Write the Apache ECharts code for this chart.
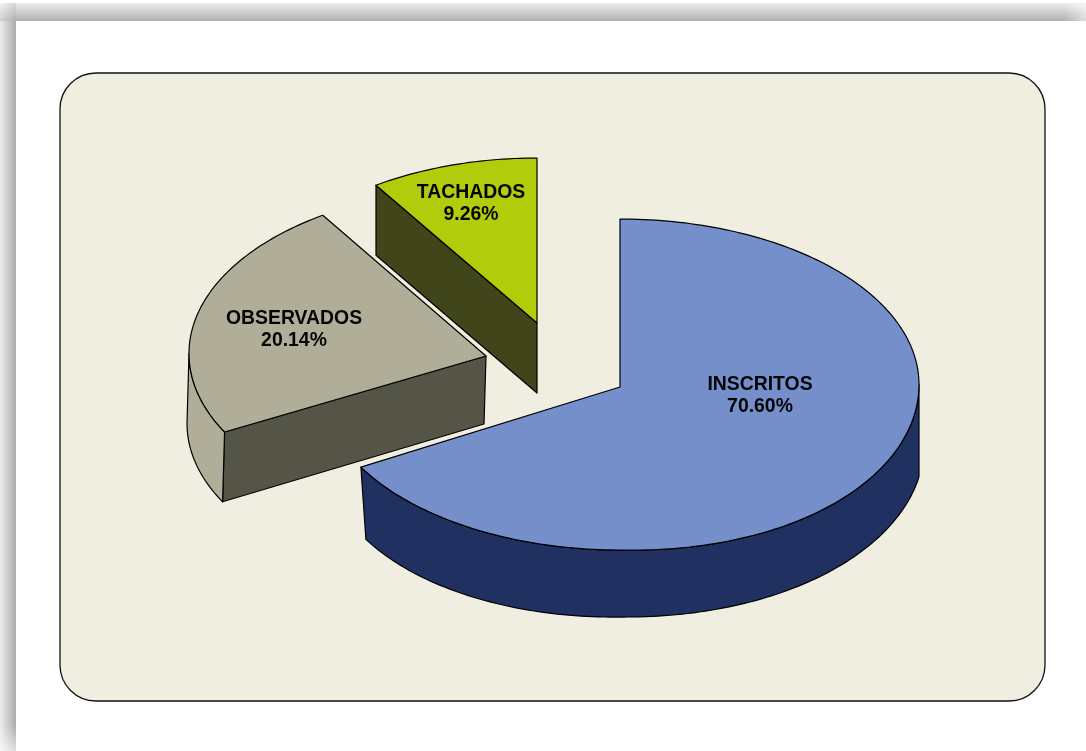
<!DOCTYPE html>
<html><head><meta charset="utf-8">
<style>html,body{margin:0;padding:0;background:#fff}#c{width:1086px;height:751px}</style>
<script src="https://cdn.jsdelivr.net/npm/echarts@6/dist/echarts.min.js"></script>
</head><body><div id="c"></div>
<script>
const categories = ['INSCRITOS', 'OBSERVADOS', 'TACHADOS'];
const shares = [70.60, 20.14, 9.26];

// Layout and styling, separate from the data
const RY = 165.5, BULGE = 3.5;
const layout = [
  { ax: 620, ay: 387, cy: 384.5, rx: 299, stretch: 2.03, baseDx: 5, baseDy: 67, shear: 6, top: '#758FCB', rim: '#203060', face: '#203060', lx: 760, ly: 395.5 },
  { ax: 486, ay: 356, cy: 353.5, rx: 297, stretch: 1.9, baseDx: -2, baseDy: 68, shear: 2, top: '#B0AE98', rim: '#B0AE98', face: '#555547', lx: 294, ly: 329.5 },
  { ax: 537, ay: 323, cy: 323.5, rx: 293, stretch: 1.9, baseDx: 0, baseDy: 70, shear: 0, top: '#B0CC0A', rim: '#40461A', face: '#40461A', lx: 471, ly: 203.5 }
];

const total = shares.reduce((a, b) => a + b, 0);
function warp(a, stretch) { // foreshortening of the 3D view: the near half is stretched toward the sides
  if (a <= 1e-9) return 0;
  if (a >= 2 * Math.PI - 1e-9) return 2 * Math.PI;
  const s = Math.sin(a), c = Math.cos(a);
  let w = Math.atan2(s, c < 0 ? c * stretch : c);
  if (w < 0) w += 2 * Math.PI;
  return w;
}
function renderItem(params, api) {
  const i = params.dataIndex, L = layout[i];
  let before = 0;
  for (let k = 0; k < i; k++) before += shares[k];
  const a0 = warp(before / total * 2 * Math.PI, L.stretch);
  const a1 = warp((before + api.value(0)) / total * 2 * Math.PI, L.stretch);
  const pt = a => [
    L.ax + L.rx * Math.sin(a),
    L.cy - RY * Math.cos(a) + BULGE * Math.max(0, -Math.sin(2 * a)) * (Math.sin(a) > 0 ? 1 : 0)
  ];
  const low = p => [
    Math.min(p[0] + L.baseDx, L.ax + L.rx),
    p[1] + L.baseDy + L.shear * (L.ax - p[0]) / L.rx
  ];
  const arc = (from, to) => {
    const n = Math.max(2, Math.ceil(Math.abs(to - from) / 0.02)), out = [];
    for (let k = 0; k <= n; k++) out.push(pt(from + (to - from) * k / n));
    return out;
  };
  const stroke = { stroke: '#000', lineWidth: 1.2, lineJoin: 'round' };
  const poly = (points, fill) => ({ type: 'polygon', shape: { points }, style: Object.assign({ fill }, stroke) });
  const children = [];
  const apex = [L.ax, L.ay];
  // Visible cut face (the first slice's cut faces are turned away from the viewer)
  if (i > 0) {
    const p = pt(a0);
    children.push(poly([apex, p, low(p), low(apex)], L.face));
  }
  // Visible outer wall: only the near half of the rim
  const s = Math.max(a0, Math.PI / 2), e = Math.min(a1, 1.5 * Math.PI);
  if (e > s) {
    const r = arc(s, e);
    children.push(poly(r.concat(r.map(low).reverse()), L.rim));
  }
  children.push(poly([apex].concat(arc(a0, a1)), L.top));
  children.push({
    type: 'text',
    style: {
      text: categories[i] + '\n' + api.value(0).toFixed(2) + '%',
      x: L.lx, y: L.ly, fill: '#050505', align: 'center', verticalAlign: 'middle',
      font: 'bold 19.4px "Liberation Sans", Arial, sans-serif', lineHeight: 22
    }
  });
  return { type: 'group', children };
}

const chart = echarts.init(document.getElementById('c'), null, { renderer: 'canvas' });
const grad = (x2, y2, c0, c1) => new echarts.graphic.LinearGradient(0, 0, x2, y2, [{ offset: 0, color: c0 }, { offset: 1, color: c1 }]);
chart.setOption({
  animation: false,
  backgroundColor: '#fff',
  graphic: [
    { type: 'rect', shape: { x: 0, y: 3, width: 1086, height: 18 }, style: { fill: grad(0, 1, '#ededed', '#b0b0b0') }, z: 0 },
    { type: 'rect', shape: { x: 1064, y: 3, width: 22, height: 18 }, style: { fill: grad(1, 0, 'rgba(255,255,255,0)', 'rgba(255,255,255,0.55)') }, z: 0 },
    { type: 'rect', shape: { x: 0, y: 21, width: 16, height: 730 }, style: { fill: grad(1, 0, '#ececec', '#ababab') }, z: 0 },
    { type: 'rect', shape: { x: 0, y: 3, width: 16, height: 18 }, style: { fill: grad(1, 1, '#f6f6f6', '#b0b0b0') }, z: 0 },
    { type: 'rect', shape: { x: 0, y: 725, width: 16, height: 26 }, style: { fill: grad(0, 1, 'rgba(255,255,255,0)', 'rgba(255,255,255,0.6)') }, z: 0 },
    { type: 'rect', shape: { x: 60, y: 73, width: 985, height: 628, r: 36 }, style: { fill: '#F0EEE0', stroke: '#111', lineWidth: 1.3 }, z: 1 }
  ],
  series: [{
    type: 'custom',
    coordinateSystem: 'none',
    renderItem,
    z: 5,
    silent: true,
    data: shares.map((v, i) => ({ name: categories[i], value: [v] }))
  }]
});
</script></body></html>
